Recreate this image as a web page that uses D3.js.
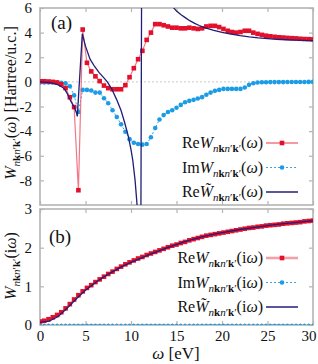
<!DOCTYPE html>
<html>
<head>
<meta charset="utf-8">
<script src="https://cdn.jsdelivr.net/npm/d3@7"></script>
<style>
  body { margin: 0; background: #fff; }
  text { font-family: "Liberation Serif", "DejaVu Serif", serif; fill: #111; }
</style>
</head>
<body>
<svg width="318" height="364"></svg>
<script>
// omega grid (eV) shared by the sampled series
var omega = [0, 0.47, 0.94, 1.41, 1.88, 2.34, 2.81, 3.28, 3.75, 4.22, 4.69, 5.16, 5.63, 6.09, 6.56, 7.03, 7.5, 7.97, 8.44, 8.91,
  9.38, 9.84, 10.31, 10.78, 11.25, 11.72, 12.19, 12.66, 13.13, 13.59, 14.06, 14.53, 15, 15.47, 15.94, 16.41, 16.88, 17.34, 17.81, 18.28,
  18.75, 19.22, 19.69, 20.16, 20.63, 21.09, 21.56, 22.03, 22.5, 22.97, 23.44, 23.91, 24.38, 24.84, 25.31, 25.78, 26.25, 26.72, 27.19, 27.66,
  28.13, 28.59, 29.06, 29.53, 30]

// panel (a): real axis
var reA = [0.05, 0.05, 0.03, 0.0, -0.05, -0.2, -0.5, -1.25, -2.05, -8.8,
  4.25, 1.55, 0.85, 0.45, 0.06, -0.3, -0.51, -0.6, -0.6, -0.6,
  -0.27, 0.38, 1.11, 1.84, 2.52, 3.41, 4.0, 4.69, 4.69, 4.6,
  4.5, 4.4, 4.4, 4.35, 4.35, 4.4, 4.35, 4.3, 4.35, 4.5,
  4.55, 4.55, 4.45, 4.3, 4.15, 4.05, 4.0, 4.05, 4.15, 4.15,
  4.0, 3.9, 3.82, 3.75, 3.7, 3.66, 3.62, 3.6, 3.57, 3.55,
  3.53, 3.5, 3.48, 3.47, 3.45]
var imA = [-0.05, -0.05, -0.05, -0.05, -0.05, -0.08, -0.12, -0.35, -1.1, -2.45,
  -0.65, -0.65, -0.7, -0.87, -0.87, -1.33, -1.73, -2.3, -2.85, -3.45,
  -4.05, -4.65, -4.95, -5.05, -5.1, -5.05, -4.5, -3.75, -3.05, -2.7,
  -2.45, -2.3, -2.1, -1.87, -1.65, -1.54, -1.46, -1.35, -1.24, -1.05,
  -0.87, -0.73, -0.65, -0.57, -0.57, -0.57, -0.57, -0.57, -0.46, -0.24,
  -0.11, -0.05, -0.03, -0.03, -0.02, -0.02, -0.02, -0.02, -0.01, -0.01,
  -0.01, -0.01, -0.01, 0, 0]
var modelAw = [0, 0.5, 1, 1.5, 2, 2.5, 2.75, 3, 3.3, 3.6, 3.8, 4, 4.1, 4.65, 5, 5.5, 6, 6.5, 7, 7.4,
  7.9, 8.4, 8.9, 9.3, 9.7, 10, 10.2, 10.45, 10.7, 10.9, 11.05, 11.3, 11.5, 12, 13, 14, 14.6, 15, 15.5, 16,
  16.5, 17, 17.5, 18, 19, 20, 21, 22, 23, 24, 25, 26, 27, 28, 29, 30]
var modelA = [0, -0.02, -0.05, -0.12, -0.25, -0.45, -0.65, -0.95, -1.45, -1.85, -2.1, -2.5, -2.8, 3.9, 2.9, 1.85, 1.25, 0.75, 0.35, 0,
  -0.6, -1.4, -2.3, -3.3, -4.4, -5.5, -6.4, -8, -10.3, -13, -20, 40, 20, 12, 8.5, 6.8, 6.1, 5.75, 5.45, 5.2,
  4.95, 4.75, 4.58, 4.43, 4.2, 4.02, 3.88, 3.75, 3.65, 3.57, 3.51, 3.46, 3.42, 3.39, 3.37, 3.35]

// panel (b): imaginary axis
var reB = [0.09, 0.11, 0.15, 0.2, 0.26, 0.33, 0.43, 0.54, 0.66, 0.77,
  0.87, 0.96, 1.03, 1.11, 1.18, 1.25, 1.32, 1.38, 1.45, 1.51,
  1.57, 1.62, 1.67, 1.72, 1.76, 1.81, 1.85, 1.89, 1.93, 1.97,
  2.01, 2.05, 2.08, 2.12, 2.15, 2.19, 2.22, 2.25, 2.28, 2.31,
  2.33, 2.35, 2.37, 2.39, 2.41, 2.43, 2.45, 2.47, 2.49, 2.51,
  2.52, 2.54, 2.55, 2.57, 2.58, 2.59, 2.6, 2.62, 2.63, 2.64,
  2.65, 2.66, 2.68, 2.69, 2.7]
var imB = [0, 0, 0, 0, 0, 0, 0, 0, 0, 0, 0, 0, 0, 0, 0, 0, 0, 0, 0, 0, 0, 0, 0, 0, 0, 0, 0, 0, 0, 0, 0, 0, 0,
  0, 0, 0, 0, 0, 0, 0, 0, 0, 0, 0, 0, 0, 0, 0, 0, 0, 0, 0, 0, 0, 0, 0, 0, 0, 0, 0, 0, 0, 0, 0, 0]
var modelBw = [0, 1, 2, 3, 4, 5, 6, 7, 8, 9, 10, 12, 14, 16, 18, 20, 22, 24, 26, 28, 30]
var modelB = [0.07, 0.1, 0.22, 0.44, 0.68, 0.9, 1.08, 1.24, 1.38, 1.51, 1.62, 1.82, 2.0, 2.16, 2.29, 2.39, 2.47, 2.54, 2.6, 2.65, 2.7]

var xTicks = [0, 5, 10, 15, 20, 25, 30]
var yTicksA = [-8, -6, -4, -2, 0, 2, 4, 6]
var yTicksB = [0, 1, 2, 3]

var RED = '#e3102c', REDLINE = '#ef5566', BLUE = '#1d9ce6', NAVY = '#1f1f78', FRAME = '#b4b4b4'

var svg = d3.select('svg')
var L = 40, R = 313

var x = d3.scaleLinear().domain([0, 30]).range([L, R])
var ya = d3.scaleLinear().domain([-10, 6]).range([205, 8])
var yb = d3.scaleLinear().domain([0, 3]).range([325, 209])

svg.append('defs').selectAll('clipPath')
  .data([['clipA', ya], ['clipB', yb]])
  .enter().append('clipPath').attr('id', function (d) { return d[0] })
  .append('rect')
  .attr('x', L).attr('width', R - L)
  .attr('y', function (d) { return d[1].range()[1] })
  .attr('height', function (d) { return d[1].range()[0] - d[1].range()[1] })

function frame(y, ticks, showX) {
  var g = svg.append('g')
  var top = y.range()[1], bot = y.range()[0]

  g.append('g').attr('transform', 'translate(' + L + ',0)')
    .call(d3.axisLeft(y).tickValues(ticks).tickSizeInner(-4).tickSizeOuter(0).tickPadding(8).tickFormat(String))
  g.append('g').attr('transform', 'translate(' + R + ',0)')
    .call(d3.axisRight(y).tickValues(ticks).tickSizeInner(-4).tickSizeOuter(0).tickFormat(''))
  var xb = g.append('g').attr('transform', 'translate(0,' + bot + ')')
    .call(d3.axisBottom(x).tickValues(xTicks).tickSizeInner(-4).tickSizeOuter(0).tickPadding(5)
      .tickFormat(showX ? String : ''))
  g.append('g').attr('transform', 'translate(0,' + top + ')')
    .call(d3.axisTop(x).tickValues(xTicks).tickSizeInner(-4).tickSizeOuter(0).tickFormat(''))

  g.selectAll('.domain').remove()
  g.selectAll('.tick line').attr('stroke', FRAME).attr('stroke-width', 1.2)
  g.selectAll('.tick text').style('font-family', '"Liberation Serif", serif').style('font-size', '15px').attr('fill', '#111')
  // last x label sits flush with the right edge
  xb.selectAll('.tick text').filter(function (d) { return d === 30 }).attr('text-anchor', 'end').attr('dx', 3)

  g.append('rect')
    .attr('x', L).attr('y', top).attr('width', R - L).attr('height', bot - top)
    .attr('fill', 'none').attr('stroke', FRAME).attr('stroke-width', 1.6)
}

frame(ya, yTicksA, false)
frame(yb, yTicksB, true)

// zero line in (a)
svg.append('line')
  .attr('x1', L).attr('x2', R).attr('y1', ya(0)).attr('y2', ya(0))
  .attr('stroke', '#bbb').attr('stroke-width', 0.8).attr('stroke-dasharray', '2,2')

function drawPanel(y, clip, re, im, mw, mv, imR, redW) {
  var g = svg.append('g').attr('clip-path', 'url(#' + clip + ')')
  var line = d3.line().x(function (d) { return x(d[0]) }).y(function (d) { return y(d[1]) })

  g.append('path').datum(d3.zip(omega, im))
    .attr('d', line).attr('fill', 'none').attr('stroke', BLUE).attr('stroke-width', 0.9)
    .attr('stroke-dasharray', '2,2')
  g.selectAll('.im').data(d3.zip(omega, im)).enter().append('circle')
    .attr('cx', function (d) { return x(d[0]) }).attr('cy', function (d) { return y(d[1]) })
    .attr('r', imR).attr('fill', BLUE)

  g.append('path').datum(d3.zip(omega, re))
    .attr('d', line).attr('fill', 'none').attr('stroke', REDLINE).attr('stroke-opacity', 0.8).attr('stroke-width', redW)
  g.selectAll('.re').data(d3.zip(omega, re)).enter().append('rect')
    .attr('x', function (d) { return x(d[0]) - 2.3 }).attr('y', function (d) { return y(d[1]) - 2.3 })
    .attr('width', 4.6).attr('height', 4.6).attr('fill', RED)

  g.append('path').datum(d3.zip(mw, mv))
    .attr('d', line).attr('fill', 'none').attr('stroke', NAVY).attr('stroke-width', 1.3)
}

drawPanel(ya, 'clipA', reA, imA, modelAw, modelA, 2.3, 1.2)
drawPanel(yb, 'clipB', reB, imB, modelBw, modelB, 1.5, 1.2)

// rich text helper: parts = [text, {i, b, sub}]
function rich(t, parts, big, small) {
  parts.forEach(function (p) {
    var o = p[1] || {}
    var isSub = o.sub && o.sub !== 'end'
    var s = t.append('tspan').text(p[0])
      .style('font-size', (isSub ? small : big) + 'px')
      .style('font-style', o.i ? 'italic' : 'normal')
      .style('font-weight', o.b ? 'bold' : 'normal')
    if (o.sub === 'start') s.attr('dy', big * 0.28)
    if (o.sub === 'end') s.attr('dy', -big * 0.28)
  })
  return t
}

function wParts(prefix, tilde, arg) {
  var p = []
  if (prefix) p.push([prefix, {}])
  p.push([tilde ? 'W\u0303' : 'W', {i: 1}])
  p.push(['n', {i: 1, sub: 'start'}], ['k', {b: 1, sub: 1}], ['n', {i: 1, sub: 1}], ['\u2032', {sub: 1}],
    ['k', {b: 1, sub: 1}], ['\u2032', {sub: 1}])
  p.push(['(', {sub: 'end'}])
  arg.forEach(function (a) { p.push(a) })
  p.push([')', {}])
  return p
}

function legend(rows, y0, thickRed) {
  rows.forEach(function (r, i) {
    var yy = y0 + i * 24.5
    rich(svg.append('text').attr('x', 263).attr('y', yy + 5).attr('text-anchor', 'end'), r.parts, 16, 11)
    var ln = svg.append('line').attr('x1', 266).attr('x2', 298).attr('y1', yy).attr('y2', yy)
    if (r.kind === 're') {
      ln.attr('stroke', thickRed ? '#f4a0aa' : REDLINE).attr('stroke-width', thickRed ? 2.6 : 1.2)
      svg.append('rect').attr('x', 279.7).attr('y', yy - 2.3).attr('width', 4.6).attr('height', 4.6).attr('fill', RED)
    } else if (r.kind === 'im') {
      ln.attr('stroke', BLUE).attr('stroke-width', 0.9).attr('stroke-dasharray', '2,2')
      svg.append('circle').attr('cx', 282).attr('cy', yy).attr('r', 2.3).attr('fill', BLUE)
    } else {
      ln.attr('stroke', NAVY).attr('stroke-width', 1.5)
    }
  })
}

legend([
  {kind: 're', parts: wParts('Re', false, [['\u03c9', {i: 1}]])},
  {kind: 'im', parts: wParts('Im', false, [['\u03c9', {i: 1}]])},
  {kind: 'mo', parts: wParts('Re', true, [['\u03c9', {i: 1}]])}
], 143, false)

legend([
  {kind: 're', parts: wParts('Re', false, [['i', {}], ['\u03c9', {i: 1}]])},
  {kind: 'im', parts: wParts('Im', false, [['i', {}], ['\u03c9', {i: 1}]])},
  {kind: 'mo', parts: wParts('Re', true, [['i', {}], ['\u03c9', {i: 1}]])}
], 258, true)

// panel letters
svg.append('text').attr('x', 51).attr('y', 29).style('font-size', '19px').text('(a)')
svg.append('text').attr('x', 49).attr('y', 243).style('font-size', '19px').text('(b)')

// axis titles
var pa = wParts(null, false, [['\u03c9', {i: 1}]])
pa.push([' [Hartree/u.c.]', {}])
rich(svg.append('text').attr('text-anchor', 'middle')
  .attr('transform', 'translate(16,103) rotate(-90)'), pa, 16, 11)
rich(svg.append('text').attr('text-anchor', 'middle')
  .attr('transform', 'translate(16,266) rotate(-90)'), wParts(null, false, [['i', {}], ['\u03c9', {i: 1}]]), 16, 11)

rich(svg.append('text').attr('x', 176).attr('y', 359).attr('text-anchor', 'middle'),
  [['\u03c9', {i: 1}], [' [eV]', {}]], 17, 12)
</script>
</body>
</html>
